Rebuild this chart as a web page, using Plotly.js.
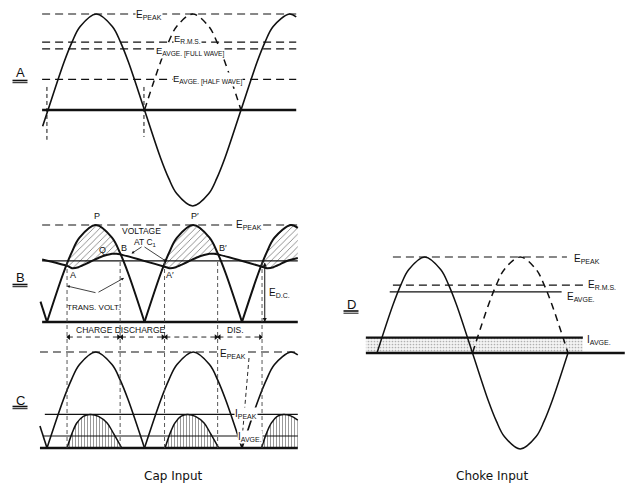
<!DOCTYPE html>
<html>
<head>
<meta charset="utf-8">
<script src="https://cdn.plot.ly/plotly-3.0.1.min.js"></script>
<style>html,body{margin:0;padding:0;background:#fff}#chart{width:632px;height:497px}</style>
</head>
<body>
<div id="chart"></div>
<script>
// ---------- DATA (x in electrical degrees, y as fraction of E peak) ----------
// Panel A : transformer voltage, rectified half (dashed) and reference levels
const aSineDeg = [-10,0,30,45,60,90,120,135,150,180,210,225,240,270,300,315,330,360,390,405,420,450,463];
const aSineV   = [-0.17,0,0.5,0.71,0.87,1,0.87,0.71,0.5,0,-0.5,-0.71,-0.87,-1,-0.87,-0.71,-0.5,0,0.5,0.71,0.87,1,0.97];
const aHumpDeg = [180,210,225,240,270,300,315,330,360];
const aHumpV   = [0,0.5,0.71,0.87,1,0.87,0.71,0.5,0];
const aLevelNames = ['E<sub>PEAK</sub>','E<sub>R.M.S.</sub>','E<sub>AVGE. [FULL WAVE]</sub>','E<sub>AVGE. [HALF WAVE]</sub>'];
const aLevels  = [1, 0.707, 0.637, 0.318];
const aSpan    = [-11, 463];
const aZeroMarks = [-2, 179];

// Panel B : capacitor input, rectified voltage and voltage at C1
const bSineDeg = [-12,0,null,0,30,45,60,90,120,135,150,180,null,180,210,225,240,270,300,315,330,360,null,360,390,405,420,450,463];
const bSineV   = [0.21,0,null,0,0.5,0.71,0.87,1,0.87,0.71,0.5,0,null,0,0.5,0.71,0.87,1,0.87,0.71,0.5,0,null,0,0.5,0.71,0.87,1,0.97];
const bCapDeg  = [-9,37,46,58,70,84,98,110,120,128,135,217,226,238,250,264,278,290,300,308,315,397,406,418,430,444,463];
const bCapV    = [0.645,0.58,0.555,0.565,0.595,0.632,0.668,0.69,0.703,0.703,0.697,0.57,0.555,0.565,0.595,0.632,0.668,0.69,0.703,0.703,0.697,0.57,0.555,0.565,0.595,0.632,0.66];
const bHatch1Deg = [37,45,55,65,75,90,105,115,125,135,135,128,120,110,98,84,70,58,46,37];
const bHatch1V   = [0.602,0.707,0.819,0.906,0.966,1,0.966,0.906,0.819,0.707,0.697,0.703,0.703,0.69,0.668,0.632,0.595,0.565,0.555,0.58];
const bHatch2Deg = [217,225,235,245,255,270,285,295,305,315,315,308,300,290,278,264,250,238,226,217];
const bHatch2V   = [0.602,0.707,0.819,0.906,0.966,1,0.966,0.906,0.819,0.707,0.697,0.703,0.703,0.69,0.668,0.632,0.595,0.565,0.555,0.58];
const bHatch3Deg = [397,405,415,425,435,450,463,463,444,430,418,406,397];
const bHatch3V   = [0.602,0.707,0.819,0.906,0.966,1,0.97,0.66,0.632,0.595,0.565,0.555,0.57];
const bEdc     = 0.63;
const bEdcAt   = 402;
const bSpan    = [-9, 463];
const chargeMarks = [37, 135, 217, 315, 397];   // A, B, A', B', A''
const intervalRow = -0.155;

// Panel C : rectified voltage and charging current pulses
const cSineDeg = [-13,0,null,0,30,45,60,90,120,135,150,180,null,180,210,225,240,270,300,315,330,360,null,360,390,405,420,450,463];
const cSineV   = [0.23,0,null,0,0.5,0.71,0.87,1,0.87,0.71,0.5,0,null,0,0.5,0.71,0.87,1,0.87,0.71,0.5,0,null,0,0.5,0.71,0.87,1,0.97];
const cPulse1Deg = [37,46,55,67,80,95,111,123,138];
const cPulse2Deg = [218,227,236,247,259,274,290,302,317];
const cPulseV    = [0,0.15,0.26,0.33,0.35,0.33,0.26,0.15,0];
const cPulse3Deg = [396,405,414,425,437,450,463];
const cPulse3V   = [0,0.15,0.26,0.33,0.35,0.335,0.29];
const cIPeak = 0.35, cIAvg = 0.125;
const cSpan  = [-13, 463];

// Panel D : choke input
const dSineDeg = [0,30,45,60,90,120,135,150,180,210,225,240,270,300,315,330,360];
const dSineV   = [0,0.5,0.71,0.87,1,0.87,0.71,0.5,0,-0.5,-0.71,-0.87,-1,-0.87,-0.71,-0.5,0];
const dHumpDeg = [180,210,225,240,270,300,315,330,360];
const dHumpV   = [0,0.5,0.71,0.87,1,0.87,0.71,0.5,0];
const dEPeak = 1, dERms = 0.707, dEAvg = 0.637, dIAvg = 0.16;
const dEPeakSpan = [30,358], dERmsSpan = [30,392], dEAvgSpan = [24,348], dIAvgSpan = [-21,388], dZeroSpan = [-21,467];

// ---------- LAYOUT HELPERS ----------
const W = 632, H = 497, F = 'Liberation Sans';
function lin(p0,v0,p1,v1){const s=(p1-p0)/(v1-v0);return p=>v0+(p-p0)/s;}
function xAx(p0,v0,p1,v1,d0,d1){const f=lin(p0,v0,p1,v1);return {domain:[d0/W,d1/W],range:[f(d0),f(d1)],visible:false,fixedrange:true};}
function yAx(p0,v0,p1,v1,top,bot,anchor){const f=lin(p0,v0,p1,v1);return {domain:[1-bot/H,1-top/H],range:[f(bot),f(top)],visible:false,fixedrange:true,anchor:anchor};}

const traces = [];
function L(ax, x, y, line, extra){
  traces.push(Object.assign({type:'scatter',mode:'lines',x:x,y:y,xaxis:'x'+ax,yaxis:'y'+ax,
    line:Object.assign({color:'#111',width:1.5},line),hoverinfo:'skip',connectgaps:false},extra||{}));
}
const DASH = '8px,5px';
const SP = {shape:'spline'};

// Panel A
aLevels.forEach((v,i)=>L('', aSpan, [v,v], {width:1.2,dash:DASH}));
L('', aSpan, [0,0], {width:2.6});
L('', [aZeroMarks[0],aZeroMarks[0],null,aZeroMarks[1],aZeroMarks[1]], [0.24,-0.31,null,0.24,-0.28], {width:1,dash:'4px,3px'});
L('', aHumpDeg, aHumpV, Object.assign({width:1.5,dash:'7px,5px'},SP));
L('', aSineDeg, aSineV, Object.assign({width:1.6},SP));

// Panel B
const hatch = {shape:'/',size:4.5,solidity:0.12,fgcolor:'#333',bgcolor:'rgba(255,255,255,0)'};
[[bHatch1Deg,bHatch1V],[bHatch2Deg,bHatch2V],[bHatch3Deg,bHatch3V]].forEach(h=>
  L('2', h[0], h[1], {width:0}, {fill:'toself',fillcolor:'rgba(0,0,0,0)',fillpattern:hatch}));
L('2', bSpan, [1,1], {width:1.2,dash:DASH});
L('2', bSpan, [bEdc,bEdc], {width:1.1});
L('2', bSpan, [0,0], {width:2.6});
L('2', bCapDeg, bCapV, {width:2,shape:'spline',smoothing:0.6});
L('2', bSineDeg, bSineV, Object.assign({width:2},SP));
// charge / discharge interval arrows
for(let i=0;i<chargeMarks.length-1;i++){
  const a=chargeMarks[i]+1.5, b=chargeMarks[i+1]-1.5;
  L('2',[a,b],[intervalRow,intervalRow],{width:0.9,dash:'5px,4px'});
  traces.push({type:'scatter',mode:'markers',x:[a+1.5,b-1.5],y:[intervalRow,intervalRow],xaxis:'x2',yaxis:'y2',
    marker:{symbol:['triangle-left','triangle-right'],size:5,color:'#111'},hoverinfo:'skip'});
}

// Panel C
const vhatch = {shape:'|',size:3,solidity:0.25,fgcolor:'#777',bgcolor:'white'};
[[cPulse1Deg,cPulseV],[cPulse2Deg,cPulseV],[cPulse3Deg,cPulse3V]].forEach(p=>
  L('3', p[0], p[1], {width:1.5,shape:'spline'}, {fill:'tozeroy',fillcolor:'rgba(0,0,0,0)',fillpattern:vhatch}));
L('3', cSpan, [1,1], {width:1.2,dash:DASH});
L('3', [-4,cSpan[1]], [cIPeak,cIPeak], {width:1.1});
L('3', [-7,cSpan[1]], [cIAvg,cIAvg], {width:1.1});
L('3', cSpan, [0,0], {width:2.6});
L('3', cSineDeg, cSineV, Object.assign({width:1.6},SP));

// Panel D
L('4', dIAvgSpan, [dIAvg,dIAvg], {width:0}, {fill:'tozeroy',fillcolor:'rgba(0,0,0,0)',
  fillpattern:{shape:'.',size:3,solidity:0.25,fgcolor:'#b0b0b0',bgcolor:'#f4f4f4'}});
L('4', dEPeakSpan, [dEPeak,dEPeak], {width:1.1,dash:DASH});
L('4', dERmsSpan, [dERms,dERms], {width:1.1,dash:DASH});
L('4', dEAvgSpan, [dEAvg,dEAvg], {width:1.2});
L('4', dIAvgSpan, [dIAvg,dIAvg], {width:2.4});
L('4', dZeroSpan, [0,0], {width:2.4});
L('4', dHumpDeg, dHumpV, Object.assign({width:1.5,dash:'7px,5px'},SP));
L('4', dSineDeg, dSineV, Object.assign({width:1.5},SP));

// ---------- ANNOTATIONS ----------
const ann = [];
function lab(px,py,text,size,opts){
  ann.push(Object.assign({xref:'paper',yref:'paper',x:px/W,y:1-py/H,text:text,showarrow:false,
    font:{family:F,size:size,color:'#111'},xanchor:'center',yanchor:'middle'},opts||{}));
}
function arrow(hx,hy,tx,ty,opts){
  ann.push(Object.assign({xref:'paper',yref:'paper',x:hx/W,y:1-hy/H,ax:tx-hx,ay:ty-hy,text:'',showarrow:true,
    arrowhead:2,arrowsize:0.7,arrowwidth:0.8,arrowcolor:'#111',standoff:0},opts||{}));
}
const WB = {bgcolor:'white',borderpad:0};
// A
lab(149,15,aLevelNames[0],10,WB);
lab(190,51,aLevelNames[2],9.5,WB);
lab(188,38.5,aLevelNames[1],9.5,WB);
lab(207,79,aLevelNames[3],9.5,WB);
// B
lab(97,216,'P',9); lab(195,216,'P′',9);
lab(249,225,'E<sub>PEAK</sub>',10,WB);
lab(141,230.5,'VOLTAGE',8.5); lab(145,242,'AT C<sub>1</sub>',8.5);
lab(102,250,'Q',9); lab(124,248,'B',9); lab(73,275,'A',9); lab(170,275,'A′',9); lab(223,248,'B′',9);
lab(93,307,'TRANS. VOLT.',8);
lab(267,293,'E<sub>D.C.</sub>',10,{xanchor:'left'});
lab(121,330,'CHARGE DISCHARGE',8.5);
lab(235,330,'DIS.',8.5);
arrow(131.5,253.5,143,246); arrow(166.5,261.5,143,246);
arrow(67,286,97,293); arrow(124,278,97,293);
ann.push({xref:'x2',yref:'y2',axref:'x2',ayref:'y2',x:bEdcAt,y:0,ax:bEdcAt,ay:bEdc,text:'',showarrow:true,
  arrowhead:2,arrowsize:0.8,arrowwidth:1,arrowside:'end+start',arrowcolor:'#111',standoff:0,startstandoff:0});
// C
lab(233,354,'E<sub>PEAK</sub>',10,WB);
lab(246,414,'I<sub>PEAK</sub>',10,WB);
lab(250,437,'I<sub>AVGE.</sub>',10,WB);
// D
lab(572,259,'E<sub>PEAK</sub>',10,{xanchor:'left'});
lab(586,285,'E<sub>R.M.S.</sub>',10,{xanchor:'left'});
lab(565,297,'E<sub>AVGE.</sub>',10,{xanchor:'left'});
lab(585,340,'I<sub>AVGE.</sub>',10,{xanchor:'left'});
// panel letters and titles
lab(20,73,'A',13); lab(20,277,'B',13); lab(20,400,'C',13); lab(351,304,'D',13);
lab(173,476,'Cap Input',12,{font:{family:'DejaVu Sans',size:12,color:'#111'}});
lab(492,476,'Choke Input',12,{font:{family:'DejaVu Sans',size:12,color:'#111'}});

// ---------- SHAPES ----------
const shapes = [];
function pline(x0,y0,x1,y1,w,dash){shapes.push({type:'line',xref:'paper',yref:'paper',x0:x0/W,y0:1-y0/H,x1:x1/W,y1:1-y1/H,line:{color:'#111',width:w,dash:dash||'solid'}});}
[[20,80.5],[20,284.5],[20,406.5],[351,311]].forEach(p=>{pline(p[0]-7.5,p[1],p[0]+7.5,p[1],1.6);pline(p[0]-7.5,p[1]+2.2,p[0]+7.5,p[1]+2.2,1);});
chargeMarks.forEach(m=>shapes.push({type:'line',xref:'x2',yref:'paper',x0:m,x1:m,y0:1-448/H,y1:1-262/H,
  line:{color:'#444',width:0.9,dash:'4px,3px'}}));
pline(249,358,242,440,0.9,'4px,3px');
pline(238.5,440.5,241.5,446,1); pline(241.5,446,244.5,440.5,1);

const layout = {
  width:W,height:H,margin:{l:0,r:0,t:0,b:0,pad:0},showlegend:false,
  paper_bgcolor:'white',plot_bgcolor:'rgba(0,0,0,0)',
  xaxis: xAx(48,0,241,360,20,315),  yaxis: yAx(110,0,14,1,0,225,'x'),
  xaxis2:xAx(47,0,242,360,20,315),  yaxis2:yAx(322,0,225,1,200,345,'x2'),
  xaxis3:xAx(47,0,242,360,20,315),  yaxis3:yAx(448,0,352,1,345,460,'x3'),
  xaxis4:xAx(377,0,568,360,340,632),yaxis4:yAx(353,0,257,1,235,465,'x4'),
  annotations:ann, shapes:shapes
};
layout.xaxis.anchor='y'; layout.xaxis2.anchor='y2'; layout.xaxis3.anchor='y3'; layout.xaxis4.anchor='y4';
Plotly.newPlot('chart', traces, layout, {staticPlot:true,displayModeBar:false});
</script>
</body>
</html>
